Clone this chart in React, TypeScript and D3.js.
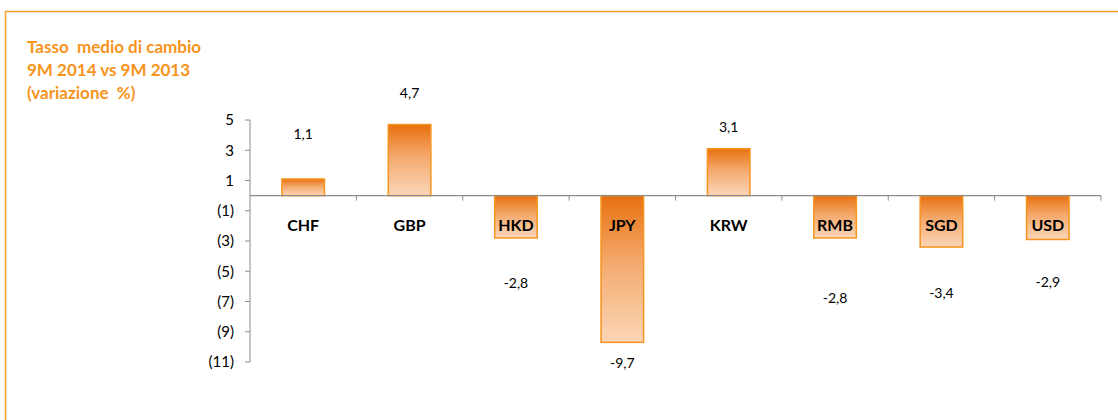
import * as d3 from "d3";

// chart data
const currencies = ["CHF", "GBP", "HKD", "JPY", "KRW", "RMB", "SGD", "USD"];
const changes = [1.1, 4.7, -2.8, -9.7, 3.1, -2.8, -3.4, -2.9];
// where each value label sits, in value units (the source places them by hand)
const labelAt = [4.1, 6.75, -5.8, -11.1, 4.5, -6.75, -6.45, -5.75];
const yTickValues = [5, 3, 1, -1, -3, -5, -7, -9, -11];
const titleLines = ["Tasso  medio di cambio", "9M 2014 vs 9M 2013", "(variazione  %)"];

const orange = "#F7A12A";
const font = "Lato, 'Open Sans', sans-serif";

const fmtTick = (v: number) => (v < 0 ? `(${Math.abs(v)})` : `${v}`);
const fmtValue = (v: number) => v.toFixed(1).replace(".", ",");

export default function App() {
  const width = 1118;
  const height = 420;
  const marginLeft = 250;
  const marginRight = 17;
  const marginTop = 120;
  const plotBottom = 362;

  const x = d3
    .scaleBand()
    .domain(currencies)
    .range([marginLeft, width - marginRight])
    .paddingInner(0.6)
    .paddingOuter(0.3);

  const y = d3.scaleLinear().domain([-11, 5]).range([plotBottom, marginTop]);

  const boundaries = d3
    .range(currencies.length + 1)
    .map((i) => marginLeft + i * ((width - marginRight - marginLeft) / currencies.length));

  return (
    <svg
      width={width}
      height={height}
      style={{ position: "absolute", left: 0, top: 0, background: "#fff" }}
    >
      <defs>
        <linearGradient id="barFill" x1="0" y1="0" x2="0" y2="1">
          <stop offset="0%" stopColor="#E8700F" />
          <stop offset="45%" stopColor="#F4A96C" />
          <stop offset="100%" stopColor="#FBD6B8" />
        </linearGradient>
      </defs>

      {/* Frame */}
      <rect x={5.5} y={11.5} width={width + 20} height={height + 20} fill="none" stroke={orange} strokeWidth={1.5} />

      {/* Title */}
      <text fontFamily={font} fontWeight="bold" fontSize={17} fill="#F7941D">
        {titleLines.map((t, i) => (
          <tspan key={i} x={27} y={53 + i * 23} style={{ whiteSpace: "pre" }}>
            {t}
          </tspan>
        ))}
      </text>

      {/* Y axis */}
      <line x1={marginLeft} x2={marginLeft} y1={y(5)} y2={y(-11)} stroke="#8c8c8c" strokeWidth={1} />
      {yTickValues.map((t) => (
        <g key={t} transform={`translate(${marginLeft},${y(t)})`}>
          <line x1={-5} x2={0} stroke="#8c8c8c" />
          <text x={-16} dy="0.35em" textAnchor="end" fontFamily={font} fontSize={15} fill="#000">
            {fmtTick(t)}
          </text>
        </g>
      ))}

      {/* Bars */}
      {currencies.map((c, i) => {
        const v = changes[i];
        const top = y(Math.max(0, v));
        const h = Math.abs(y(v) - y(0));
        return (
          <rect
            key={c}
            x={x(c)}
            y={top}
            width={x.bandwidth()}
            height={h}
            fill="url(#barFill)"
            stroke="#F7941D"
            strokeWidth={1.5}
          />
        );
      })}

      {/* Zero line with category ticks */}
      <line x1={marginLeft} x2={width - marginRight} y1={y(0)} y2={y(0)} stroke="#8c8c8c" strokeWidth={1.2} />
      {boundaries.slice(1).map((bx, i) => (
        <line key={i} x1={bx} x2={bx} y1={y(0)} y2={y(0) + 5} stroke="#8c8c8c" />
      ))}

      {/* Category labels */}
      {currencies.map((c) => (
        <text
          key={c}
          x={(x(c) ?? 0) + x.bandwidth() / 2}
          y={y(-2)}
          dy="0.35em"
          textAnchor="middle"
          fontFamily={font}
          fontWeight="bold"
          fontSize={16}
          fill="#000"
        >
          {c}
        </text>
      ))}

      {/* Value labels */}
      {currencies.map((c, i) => (
        <text
          key={c}
          x={(x(c) ?? 0) + x.bandwidth() / 2}
          y={y(labelAt[i])}
          dy="0.35em"
          textAnchor="middle"
          fontFamily={font}
          fontSize={14}
          fill="#000"
        >
          {fmtValue(changes[i])}
        </text>
      ))}
    </svg>
  );
}
